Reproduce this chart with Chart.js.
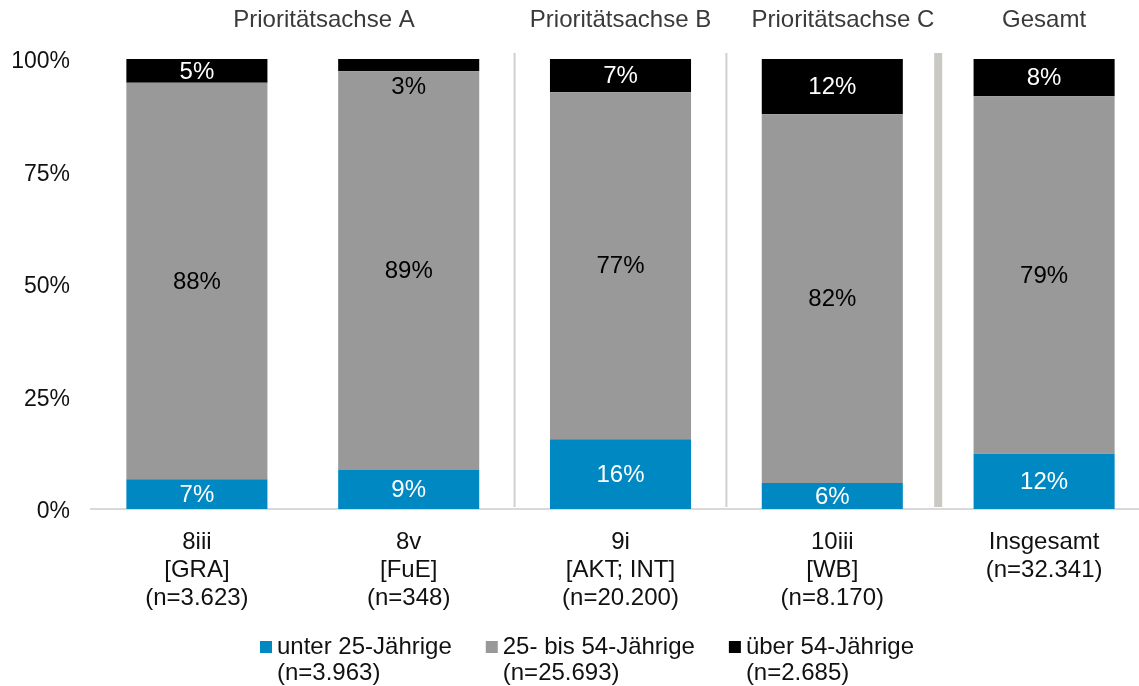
<!DOCTYPE html>
<html>
<head>
<meta charset="utf-8">
<script src="https://cdn.jsdelivr.net/npm/chart.js@4.4.1/dist/chart.umd.min.js"></script>
<style>
  html, body { margin: 0; padding: 0; background: #fff; overflow: hidden; }
  #wrap { width: 1150px; height: 686px; }
</style>
</head>
<body>
<div id="wrap"><canvas id="age-chart"></canvas></div>
<script>
// categories (multi-line axis labels)
var categories = [
  ["8iii", "[GRA]", "(n=3.623)"],
  ["8v", "[FuE]", "(n=348)"],
  ["9i", "[AKT; INT]", "(n=20.200)"],
  ["10iii", "[WB]", "(n=8.170)"],
  ["Insgesamt", "(n=32.341)"]
];

// shares in percent
var under25 = [6.6, 8.8, 15.5, 5.8, 12.3];
var from25to54 = [88.1, 88.5, 77.1, 81.9, 79.4];
var over54 = [5.3, 2.7, 7.4, 12.3, 8.3];

var seriesNames = [
  ["unter 25-Jährige", "(n=3.963)"],
  ["25- bis 54-Jährige", "(n=25.693)"],
  ["über 54-Jährige", "(n=2.685)"]
];
var seriesColors = ["#0088c2", "#999999", "#000000"];
var labelColors = ["#ffffff", "#000000", "#ffffff"];

var yTicks = [0, 25, 50, 75, 100];

var groupHeaders = ["Prioritätsachse A", "Prioritätsachse B", "Prioritätsachse C", "Gesamt"];

var FONT = "'Liberation Sans', Arial, sans-serif";

// headers above the groups and the separators between them
var groupsPlugin = {
  id: "groups",
  afterDatasetsDraw: function(chart) {
    var ctx = chart.ctx;
    var x = chart.scales.x;
    var area = chart.chartArea;
    var step = x.getPixelForValue(1) - x.getPixelForValue(0);
    ctx.save();
    // separators: after category 1, 2 (thin) and 3 (thick)
    [[1, 2, "#d0d0cc"], [2, 2, "#d0d0cc"], [3, 8, "#c9c8c3"]].forEach(function(s) {
      var px = x.getPixelForValue(s[0]) + step / 2;
      ctx.fillStyle = s[2];
      ctx.fillRect(px - s[1] / 2, area.top - 6, s[1], area.bottom - area.top + 4);
    });
    ctx.fillStyle = "#3a3a3a";
    ctx.font = "24px " + FONT;
    ctx.textAlign = "center";
    ctx.textBaseline = "middle";
    var pos = [0.6, 2, 3.05, 4];
    groupHeaders.forEach(function(h, i) {
      ctx.fillText(h, x.getPixelForValue(0) + pos[i] * step, 20);
    });
    ctx.restore();
  }
};

// value labels inside the segments
var valuesPlugin = {
  id: "values",
  afterDatasetsDraw: function(chart) {
    var ctx = chart.ctx;
    ctx.save();
    ctx.font = "24px " + FONT;
    ctx.textAlign = "center";
    ctx.textBaseline = "middle";
    chart.data.datasets.forEach(function(ds, di) {
      chart.getDatasetMeta(di).data.forEach(function(el, i) {
        var v = ds.data[i];
        var txt = Math.round(v) + "%";
        var y = (el.y + el.base) / 2 + 1;
        var col = labelColors[di];
        if (v < 4) {
          y = el.base + 16;
          col = "#000000";
        }
        ctx.fillStyle = col;
        ctx.fillText(txt, el.x, y);
      });
    });
    ctx.restore();
  }
};

// legend with two-line labels
var legendPlugin = {
  id: "twoLineLegend",
  afterDraw: function(chart) {
    var ctx = chart.ctx;
    ctx.save();
    ctx.font = "24px " + FONT;
    ctx.textBaseline = "middle";
    ctx.textAlign = "left";
    var x = 260;
    seriesNames.forEach(function(lines, i) {
      ctx.fillStyle = seriesColors[i];
      ctx.fillRect(x, 641, 12, 12);
      ctx.fillStyle = "#111111";
      ctx.fillText(lines[0], x + 17, 647);
      ctx.fillText(lines[1], x + 17, 673);
      var w = Math.max(ctx.measureText(lines[0]).width, ctx.measureText(lines[1]).width);
      x += w + 17 + 34;
    });
    ctx.restore();
  }
};

new Chart(document.getElementById("age-chart"), {
  type: "bar",
  data: {
    labels: categories,
    datasets: [under25, from25to54, over54].map(function(d, i) {
      return {
        label: seriesNames[i].join(" "),
        data: d,
        backgroundColor: seriesColors[i],
        borderWidth: 0,
        barPercentage: 0.666,
        categoryPercentage: 1
      };
    })
  },
  options: {
    responsive: true,
    maintainAspectRatio: false,
    animation: false,
    layout: { padding: { top: 59, right: 0, bottom: 0, left: 0 } },
    plugins: {
      legend: { display: false },
      tooltip: { enabled: false }
    },
    scales: {
      x: {
        stacked: true,
        grid: { display: false, drawTicks: false },
        border: { display: true, color: "#d9d9d9", width: 2 },
        ticks: {
          color: "#111111",
          padding: 19,
          maxRotation: 0,
          autoSkip: false,
          font: { family: FONT, size: 24, lineHeight: 1.17 }
        },
        afterFit: function(scale) { scale.height = 177; }
      },
      y: {
        stacked: true,
        min: 0,
        max: 100,
        afterBuildTicks: function(scale) {
          scale.ticks = yTicks.map(function(v) { return { value: v }; });
        },
        grid: { display: false, drawTicks: false },
        border: { display: false },
        ticks: {
          color: "#111111",
          padding: 21,
          labelOffset: 3,
          font: { family: FONT, size: 23 },
          callback: function(v) { return v + "%"; }
        },
        afterFit: function(scale) { scale.width = 91; }
      }
    }
  },
  plugins: [groupsPlugin, valuesPlugin, legendPlugin]
});
</script>
</body>
</html>
